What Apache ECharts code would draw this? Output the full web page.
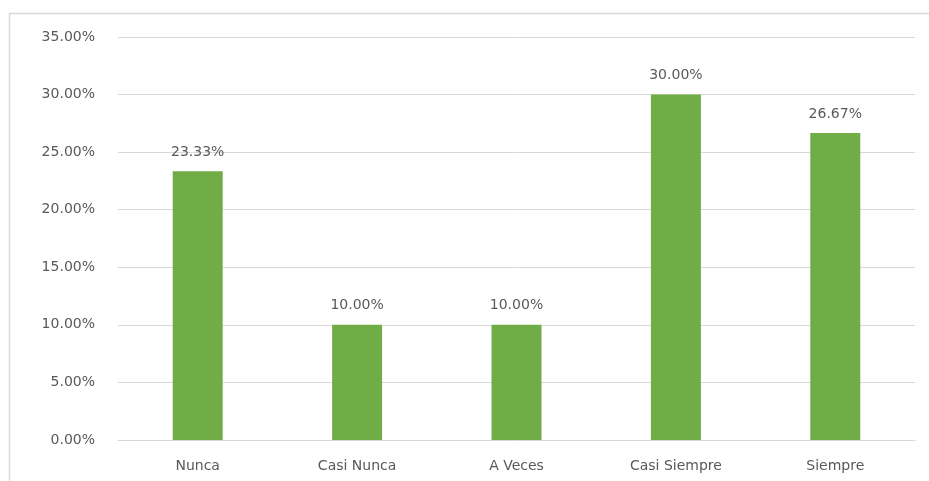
<!DOCTYPE html>
<html><head><meta charset="utf-8">
<script src="https://cdn.jsdelivr.net/npm/echarts@6/dist/echarts.min.js"></script>
<style>html,body{margin:0;padding:0;background:#fff}#c{width:929px;height:481px}</style>
</head><body><div id="c"></div>
<script>
var categories = ['Nunca', 'Casi Nunca', 'A Veces', 'Casi Siempre', 'Siempre'];
var values = [23.33, 10.00, 10.00, 30.00, 26.67];
var yMin = 0, yMax = 35, yStep = 5;

var chart = echarts.init(document.getElementById('c'));
var font = 'DejaVu Sans';
chart.setOption({
  animation: false,
  backgroundColor: '#fff',
  graphic: [{
    type: 'rect', left: 7, top: 11, shape: { width: 960, height: 520 },
    style: { fill: 'none', stroke: '#d9d9d9', lineWidth: 1.5 }, silent: true
  }],
  grid: { left: 118, right: 14, top: 37, bottom: 41 },
  xAxis: {
    type: 'category', data: categories,
    axisLine: { show: true, lineStyle: { color: '#d9d9d9' } },
    axisTick: { show: false },
    axisLabel: { color: '#595959', fontFamily: font, fontSize: 14, margin: 19 }
  },
  yAxis: {
    type: 'value', min: yMin, max: yMax, interval: yStep,
    axisLine: { show: false }, axisTick: { show: false },
    splitLine: { lineStyle: { color: '#d9d9d9', width: 1 } },
    axisLabel: { color: '#595959', fontFamily: font, fontSize: 14, margin: 23,
      formatter: function (v) { return v.toFixed(2) + '%'; } }
  },
  series: [{
    type: 'bar', data: values, barWidth: 50,
    itemStyle: { color: '#70ad47' },
    label: { show: true, position: 'top', distance: 12, color: '#595959',
      fontFamily: font, fontSize: 14,
      formatter: function (p) { return p.value.toFixed(2) + '%'; } }
  }]
});
</script></body></html>
